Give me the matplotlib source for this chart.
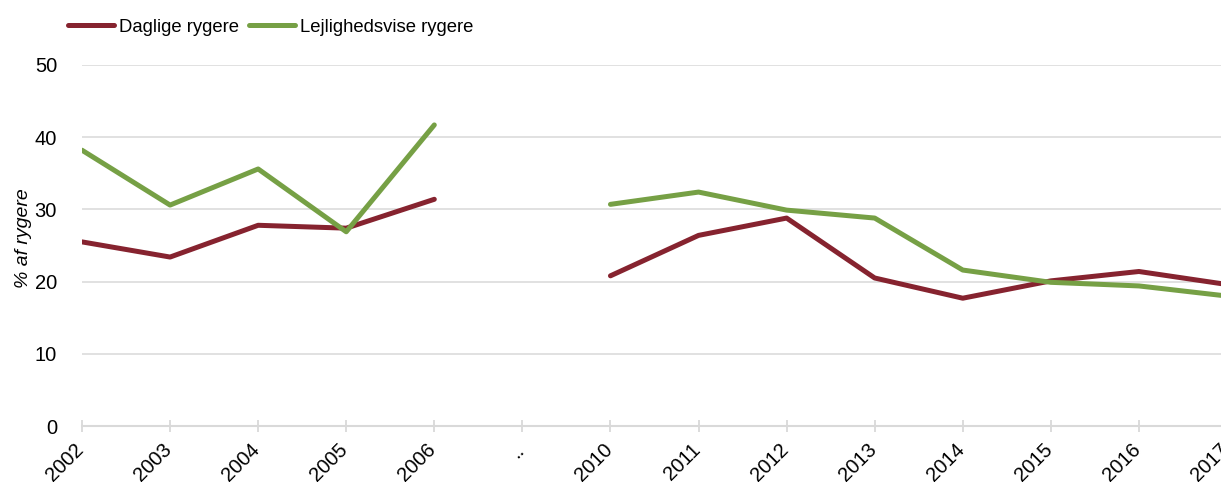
import numpy as np
import matplotlib.pyplot as plt
import matplotlib.transforms as mtransforms

plt.rcParams['font.family'] = ['Liberation Sans', 'DejaVu Sans']

# Data
years = ['2002', '2003', '2004', '2005', '2006', '..',
         '2010', '2011', '2012', '2013', '2014', '2015', '2016', '2017']
daglige = [25.5, 23.4, 27.8, 27.4, 31.4, np.nan,
           20.8, 26.4, 28.8, 20.5, 17.7, 20.1, 21.4, 19.6]
lejlighedsvise = [38.2, 30.6, 35.6, 26.9, 41.7, np.nan,
                  30.7, 32.4, 29.9, 28.8, 21.6, 19.9, 19.4, 18.0]

red = '#86232f'
green = '#76a045'
grid = '#d9d9d9'

fig = plt.figure(figsize=(12.21, 4.82), dpi=100)
ax = fig.add_axes([82 / 1221, 1 - 426 / 482, 1145 / 1221, 361 / 482])

x = np.arange(len(years))
ax.plot(x, daglige, color=red, lw=3.6, label='Daglige rygere', solid_capstyle='round')
ax.plot(x, lejlighedsvise, color=green, lw=3.6, label='Lejlighedsvise rygere', solid_capstyle='round')

ax.set_xlim(0, len(years) - 1)
ax.set_ylim(0, 50)
ax.set_yticks([0, 10, 20, 30, 40, 50])
ax.yaxis.grid(True, color=grid, lw=1.1)
ax.set_axisbelow(True)

for s in ['top', 'right', 'left']:
    ax.spines[s].set_visible(False)
ax.spines['bottom'].set_color(grid)
ax.spines['bottom'].set_linewidth(1.5)

ax.set_xticks(x)
ax.set_xticklabels(years, rotation=45, ha='right', va='top', rotation_mode='anchor')
ax.tick_params(axis='x', direction='inout', length=9, width=1.3, color=grid, pad=7, labelsize=14.5)
ax.tick_params(axis='y', length=0, pad=18, labelsize=14.5)

# nudge rotated year labels left so their ends sit under the ticks
shift = mtransforms.ScaledTranslation(-8 / 100, 2 / 100, fig.dpi_scale_trans)
for lab in ax.get_xticklabels():
    lab.set_transform(lab.get_transform() + shift)

fig.text(24 / 1221, 1 - 238 / 482, '% af rygere', rotation=90, style='italic',
         fontsize=14, ha='center', va='center')

fig.legend(loc='upper left', bbox_to_anchor=(55 / 1221, 0.988), ncol=2, frameon=False,
           fontsize=13.3, handlelength=2.5, handletextpad=0.27, columnspacing=0.55,
           borderaxespad=0.3)

fig.savefig('out.png', dpi=100)
